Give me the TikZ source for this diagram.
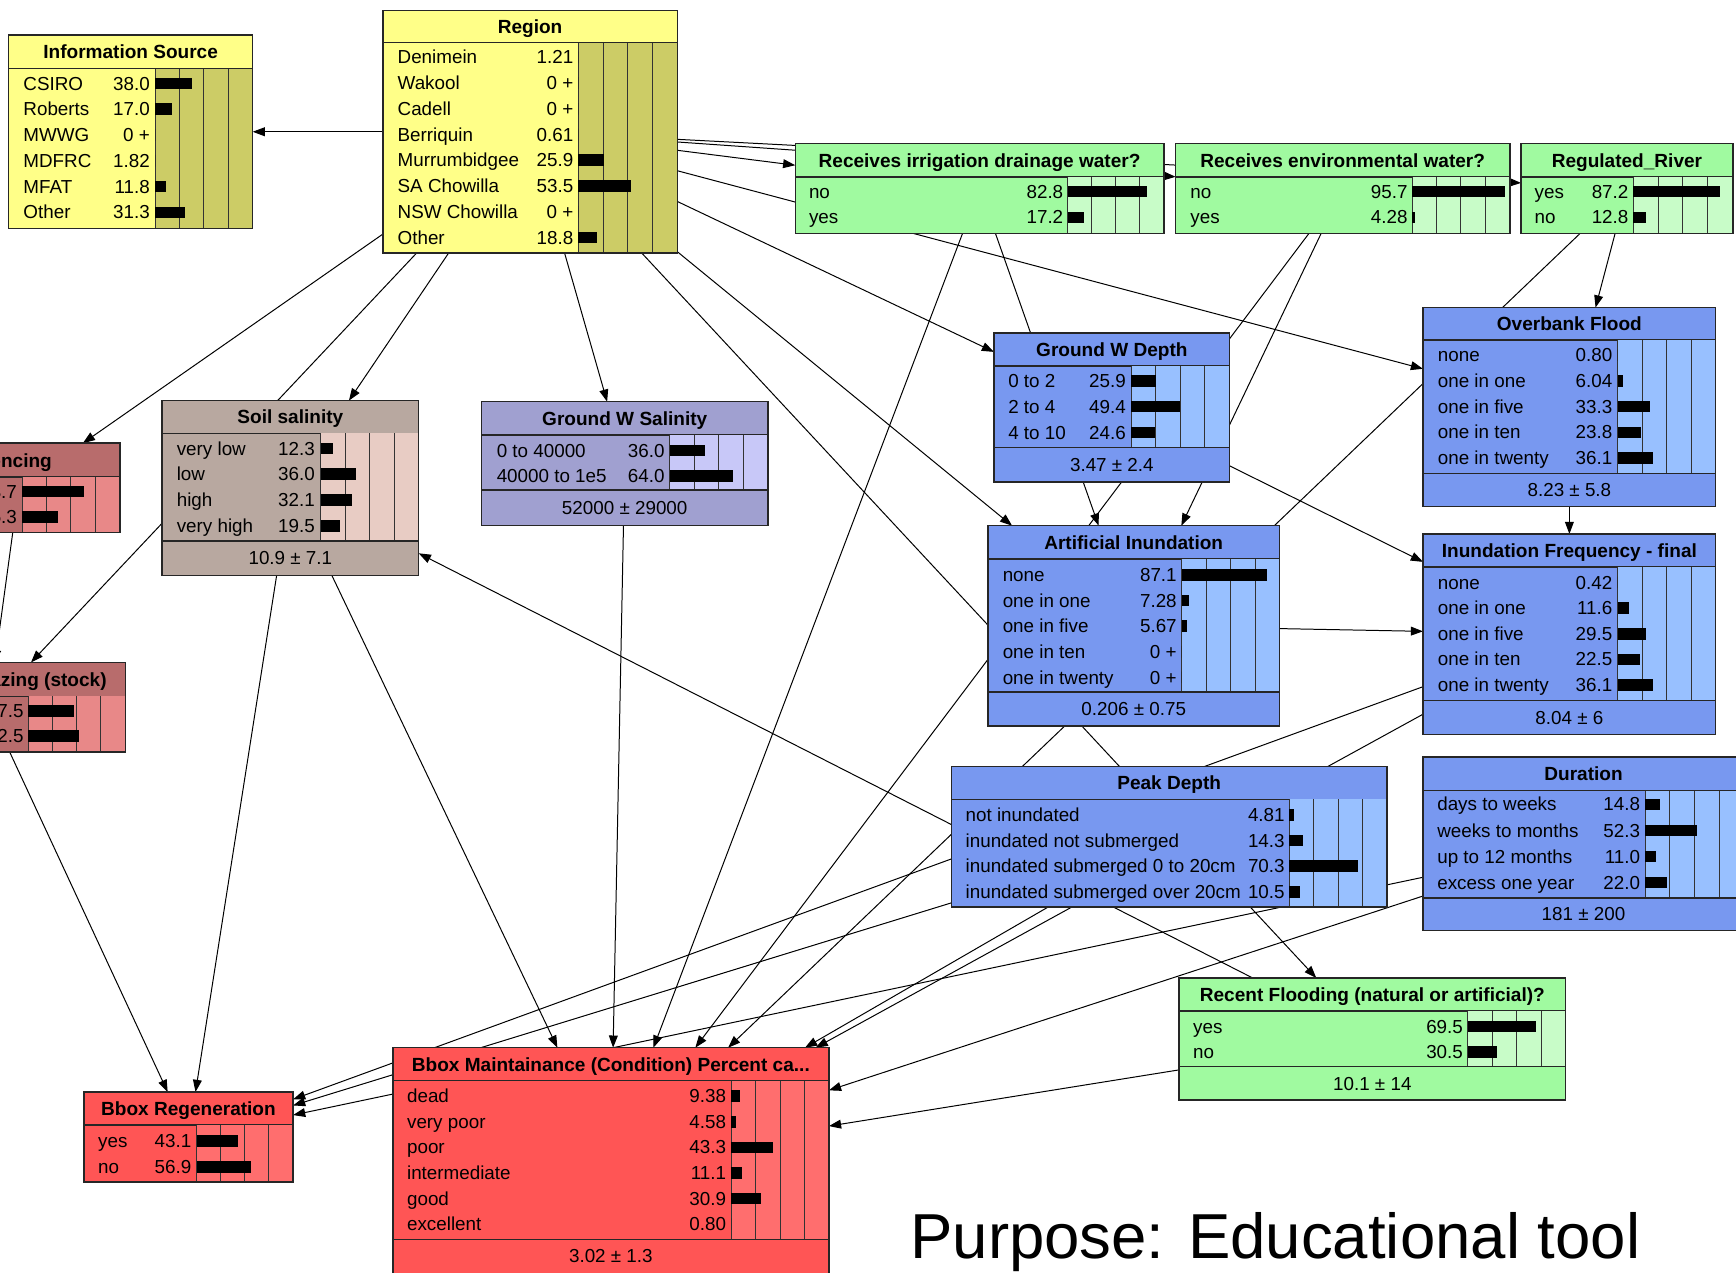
\documentclass[tikz,border=0pt]{standalone}
\usepackage{fontspec}
\setmainfont{Liberation Sans}
\usetikzlibrary{arrows.meta,fit}

\definecolor{ylw}{HTML}{FFFF88}
\definecolor{ylwbar}{HTML}{CCCC66}
\definecolor{grn}{HTML}{A0FAA0}
\definecolor{grnbar}{HTML}{C8FCC8}
\definecolor{blu}{HTML}{7898F0}
\definecolor{blubar}{HTML}{98C0FF}
\definecolor{soilc}{HTML}{B8A8A0}
\definecolor{soilbar}{HTML}{E8CCC4}
\definecolor{gwsc}{HTML}{A0A0D0}
\definecolor{gwsbar}{HTML}{C8C8F8}
\definecolor{rose}{HTML}{B86C6C}
\definecolor{rosebar}{HTML}{E88888}
\definecolor{redc}{HTML}{FF5555}
\definecolor{redbar}{HTML}{FF6E6E}

\pgfdeclarelayer{links}
\pgfsetlayers{links,main}

% probability panel with four columns
\newcommand\panel[5]{%
  \fill[#5] (#1,#2) rectangle (#3,#4);
  \foreach \k in {1,2,3}{\draw[gridln] ({#1+\k*(#3-#1)/4},#2) -- ({#1+\k*(#3-#1)/4},#4);}
  \draw[gridln] (#1,#2) -- (#1,#4);}
% column positions: label x, value right x, bar left x, bar full width
\newcommand\setcols[4]{\def\colL{#1}\def\colV{#2}\def\colB{#3}\def\colW{#4}}
% state row: y, label, value text, bar percent (0 for no visible bar)
\newcommand\prow[4]{%
  \node[lbl, anchor=base west] at (\colL,#1+6) {#2};
  \node[lbl, anchor=base east] at (\colV,#1+6) {#3};
  \fill (\colB,#1-5.25) rectangle ({\colB+\colW*#4/100},#1+5.25);}
% state row whose label lies outside the page
\newcommand\vrow[3]{%
  \node[lbl, anchor=base east] at (\colV,#1+6) {#2};
  \fill (\colB,#1-5.25) rectangle ({\colB+\colW*#3/100},#1+5.25);}
\newcommand\hsep[3]{\draw[sep] (#1,#3) -- (#2,#3);}
\newcommand\ttlat[3]{\node[ttl] at (#1,#2+6) {#3};}
\newcommand\foot[3]{\node[lbl, anchor=base] at (#1,#2+6) {#3};}
\newcommand\reframe[1]{\draw[sep] (#1.north west) rectangle (#1.south east);}

\begin{document}
\begin{tikzpicture}[x=1pt,y=-1pt,
  netbox/.style={rectangle, inner sep=0pt, draw=none},
  sep/.style={line width=1.3pt, draw=black!85},
  gridln/.style={line width=0.8pt, draw=black!80},
  ttl/.style={font=\bfseries\fontsize{17.2}{20}\selectfont, inner sep=0pt, anchor=base},
  lbl/.style={font=\fontsize{17}{20}\selectfont, inner sep=0pt},
  link/.style={line width=0.9pt, -{Triangle[length=11pt,width=8pt]}}]
\useasboundingbox (0,0) rectangle (1568,1149);

\begin{scope}
\clip (0,0) rectangle (1568,1149);

% ---------- Information Source
\node[netbox, fill=ylw, fit={(8,32) (228,206)}] (infosrc) {};
\hsep{8}{228}{62}
\ttlat{118}{47}{Information Source}
\panel{140}{62}{228}{206}{ylwbar}
\setcols{21}{135.5}{140}{88}
\prow{75.3}{CSIRO}{38.0}{38.0}
\prow{98.6}{Roberts}{17.0}{17.0}
\prow{121.9}{MWWG}{0 +}{0}
\prow{145.2}{MDFRC}{1.82}{0}
\prow{168.5}{MFAT}{11.8}{11.8}
\prow{191.8}{Other}{31.3}{31.3}
\reframe{infosrc}

% ---------- Region
\node[netbox, fill=ylw, fit={(346,9.5) (611.5,228.5)}] (region) {};
\hsep{346}{611.5}{38.5}
\ttlat{478.75}{24}{Region}
\panel{522.5}{38.5}{611.5}{228.5}{ylwbar}
\setcols{359}{518}{522.5}{89}
\prow{51.8}{Denimein}{1.21}{0}
\prow{75.0}{Wakool}{0 +}{0}
\prow{98.3}{Cadell}{0 +}{0}
\prow{121.5}{Berriquin}{0.61}{0}
\prow{144.7}{Murrumbidgee}{25.9}{25.9}
\prow{168.0}{SA Chowilla}{53.5}{53.5}
\prow{191.2}{NSW Chowilla}{0 +}{0}
\prow{214.4}{Other}{18.8}{18.8}
\reframe{region}

% ---------- Receives irrigation drainage water?
\node[netbox, fill=grn, fit={(718.5,129.8) (1051,210.5)}] (irrig) {};
\hsep{718.5}{1051}{159.8}
\ttlat{884.75}{145}{Receives irrigation drainage water?}
\panel{964.5}{159.8}{1051}{210.5}{grnbar}
\setcols{730.5}{960.5}{964.5}{86.5}
\prow{173.1}{no}{82.8}{82.8}
\prow{196.3}{yes}{17.2}{17.2}
\reframe{irrig}

% ---------- Receives environmental water?
\node[netbox, fill=grn, fit={(1062,129.8) (1363.5,210.5)}] (envw) {};
\hsep{1062}{1363.5}{159.8}
\ttlat{1212.75}{145}{Receives environmental water?}
\panel{1275.5}{159.8}{1363.5}{210.5}{grnbar}
\setcols{1075}{1271.5}{1275.5}{88}
\prow{173.1}{no}{95.7}{95.7}
\prow{196.3}{yes}{4.28}{3}
\reframe{envw}

% ---------- Regulated_River
\node[netbox, fill=grn, fit={(1374,129.8) (1565,210.5)}] (regriver) {};
\hsep{1374}{1565}{159.8}
\ttlat{1469.5}{145}{Regulated\_River}
\panel{1475}{159.8}{1565}{210.5}{grnbar}
\setcols{1386}{1471}{1475}{90}
\prow{173.1}{yes}{87.2}{87.2}
\prow{196.3}{no}{12.8}{12.8}
\reframe{regriver}

% ---------- Overbank Flood
\node[netbox, fill=blu, fit={(1285.5,278) (1549.5,457.5)}] (overbank) {};
\hsep{1285.5}{1549.5}{307}
\ttlat{1417.5}{292.5}{Overbank Flood}
\panel{1461}{307}{1549.5}{427.5}{blubar}
\hsep{1285.5}{1549.5}{427.5}
\foot{1417.5}{442.5}{8.23 ± 5.8}
\setcols{1298.5}{1456.5}{1461}{88.5}
\prow{320.7}{none}{0.80}{0}
\prow{344.0}{one in one}{6.04}{6.04}
\prow{367.2}{one in five}{33.3}{33.3}
\prow{390.5}{one in ten}{23.8}{23.8}
\prow{413.7}{one in twenty}{36.1}{36.1}
\reframe{overbank}

% ---------- Ground W Depth
\node[netbox, fill=blu, fit={(898,301) (1110.5,435)}] (gwdepth) {};
\hsep{898}{1110.5}{330.5}
\ttlat{1004.25}{316}{Ground W Depth}
\panel{1021.5}{330.5}{1110.5}{404}{blubar}
\hsep{898}{1110.5}{404}
\foot{1004.25}{419.5}{3.47 ± 2.4}
\setcols{910.5}{1017}{1021.5}{89}
\prow{344.0}{0 to 2}{25.9}{25.9}
\prow{367.3}{2 to 4}{49.4}{49.4}
\prow{390.6}{4 to 10}{24.6}{24.6}
\reframe{gwdepth}

% ---------- Artificial Inundation
\node[netbox, fill=blu, fit={(892.5,475) (1155.5,655.5)}] (artinund) {};
\hsep{892.5}{1155.5}{505}
\ttlat{1024}{490}{Artificial Inundation}
\panel{1067.5}{505}{1155.5}{625}{blubar}
\hsep{892.5}{1155.5}{625}
\foot{1024}{640}{0.206 ± 0.75}
\setcols{905.5}{1063}{1067.5}{88}
\prow{519.4}{none}{87.1}{87.1}
\prow{542.5}{one in one}{7.28}{7.28}
\prow{565.6}{one in five}{5.67}{5.67}
\prow{588.7}{one in ten}{0 +}{0}
\prow{611.8}{one in twenty}{0 +}{0}
\reframe{artinund}

% ---------- Inundation Frequency - final
\node[netbox, fill=blu, fit={(1285.5,482.5) (1549.5,663)}] (infreq) {};
\hsep{1285.5}{1549.5}{512}
\ttlat{1417.5}{497.5}{Inundation Frequency - final}
\panel{1461}{512}{1549.5}{632.5}{blubar}
\hsep{1285.5}{1549.5}{632.5}
\foot{1417.5}{648}{8.04 ± 6}
\setcols{1298.5}{1456.5}{1461}{88.5}
\prow{526.0}{none}{0.42}{0}
\prow{549.2}{one in one}{11.6}{11.6}
\prow{572.4}{one in five}{29.5}{29.5}
\prow{595.5}{one in ten}{22.5}{22.5}
\prow{618.6}{one in twenty}{36.1}{36.1}
\reframe{infreq}

% ---------- Peak Depth
\node[netbox, fill=blu, fit={(859.5,692.5) (1252.5,819)}] (peak) {};
\hsep{859.5}{1252.5}{722}
\ttlat{1056}{707.5}{Peak Depth}
\panel{1164.5}{722}{1252.5}{819}{blubar}
\setcols{872}{1160.5}{1164.5}{88}
\prow{736.0}{not inundated}{4.81}{4.81}
\prow{759.2}{inundated not submerged}{14.3}{14.3}
\prow{782.4}{inundated submerged 0 to 20cm}{70.3}{70.3}
\prow{805.6}{inundated submerged over 20cm}{10.5}{10.5}
\reframe{peak}

% ---------- Duration
\node[netbox, fill=blu, fit={(1285.5,684) (1575,840)}] (duration) {};
\hsep{1285.5}{1575}{714}
\ttlat{1430.25}{699}{Duration}
\panel{1486}{714}{1575}{811}{blubar}
\hsep{1285.5}{1575}{811}
\foot{1430.25}{825.5}{181 ± 200}
\setcols{1298}{1481.5}{1486}{89}
\prow{726.5}{days to weeks}{14.8}{14.8}
\prow{750.0}{weeks to months}{52.3}{52.3}
\prow{773.5}{up to 12 months}{11.0}{11.0}
\prow{797.0}{excess one year}{22.0}{22.0}
\reframe{duration}

% ---------- Recent Flooding
\node[netbox, fill=grn, fit={(1065,883.5) (1414,993.5)}] (rf) {};
\hsep{1065}{1414}{913}
\ttlat{1239.5}{898.5}{Recent Flooding (natural or artificial)?}
\panel{1325.5}{913}{1414}{963.5}{grnbar}
\hsep{1065}{1414}{963.5}
\foot{1239.5}{978.5}{10.1 ± 14}
\setcols{1077.5}{1321.5}{1325.5}{88.5}
\prow{927.3}{yes}{69.5}{69.5}
\prow{950.3}{no}{30.5}{30.5}
\reframe{rf}

% ---------- Bbox Regeneration
\node[netbox, fill=redc, fit={(76,986.5) (264.5,1067.5)}] (bbr) {};
\hsep{76}{264.5}{1016}
\ttlat{170.25}{1001.5}{Bbox Regeneration}
\panel{177.5}{1016}{264.5}{1067.5}{redbar}
\setcols{88.5}{173}{177.5}{87}
\prow{1030.5}{yes}{43.1}{43.1}
\prow{1053.8}{no}{56.9}{56.9}
\reframe{bbr}

% ---------- Bbox Maintainance
\node[netbox, fill=redc, fit={(355,946.5) (748.5,1150.5)}] (bbm) {};
\hsep{355}{748.5}{976}
\ttlat{551.75}{961.5}{Bbox Maintainance (Condition) Percent ca...}
\panel{660.5}{976}{748.5}{1119.5}{redbar}
\hsep{355}{748.5}{1119.5}
\foot{551.75}{1134}{3.02 ± 1.3}
\setcols{367.5}{656}{660.5}{88}
\prow{990.0}{dead}{9.38}{9.38}
\prow{1013.2}{very poor}{4.58}{4.58}
\prow{1036.3}{poor}{43.3}{43.3}
\prow{1059.4}{intermediate}{11.1}{11.1}
\prow{1082.5}{good}{30.9}{30.9}
\prow{1105.6}{excellent}{0.80}{0}
\reframe{bbm}

% ---------- Soil salinity
\node[netbox, fill=soilc, fit={(146.5,362) (378,519.5)}] (soil) {};
\hsep{146.5}{378}{391.5}
\ttlat{262.25}{376.7}{Soil salinity}
\panel{289.5}{391.5}{378}{488.5}{soilbar}
\hsep{146.5}{378}{488.5}
\foot{262.25}{503.5}{10.9 ± 7.1}
\setcols{159.5}{284.5}{289.5}{88.5}
\prow{405.0}{very low}{12.3}{12.3}
\prow{428.3}{low}{36.0}{36.0}
\prow{451.6}{high}{32.1}{32.1}
\prow{475.0}{very high}{19.5}{19.5}
\reframe{soil}

% ---------- Ground W Salinity
\node[netbox, fill=gwsc, fit={(435,363) (693.5,474.2)}] (gws) {};
\hsep{435}{693.5}{393}
\ttlat{564.25}{378}{Ground W Salinity}
\panel{605}{393}{693.5}{442.6}{gwsbar}
\hsep{435}{693.5}{442.6}
\foot{564.25}{458.5}{52000 ± 29000}
\setcols{448.5}{600.5}{605}{88.5}
\prow{407.0}{0 to 40000}{36.0}{36.0}
\prow{430.0}{40000 to 1e5}{64.0}{64.0}
\reframe{gws}

% ---------- Fencing (runs off the left edge)
\node[netbox, fill=rose, fit={(-74,400.5) (108,481)}] (fencing) {};
\hsep{-74}{108}{431}
\node[ttl, anchor=base east] at (47,421.8) {Fencing};
\panel{20}{431}{108}{481}{rosebar}
\setcols{0}{15.5}{20}{88}
\vrow{444.0}{63.7}{63.7}
\vrow{466.7}{36.3}{36.3}
\reframe{fencing}

% ---------- Grazing (stock) (runs off the left edge)
\node[netbox, fill=rose, fit={(-133,598.5) (113,679)}] (grazing) {};
\hsep{-133}{113}{629}
\node[ttl, anchor=base east] at (96.5,620) {Grazing (stock)};
\panel{25.5}{629}{113}{679}{rosebar}
\setcols{0}{21.5}{25.5}{87.5}
\vrow{642.2}{47.5}{47.5}
\vrow{664.8}{52.5}{52.5}
\reframe{grazing}

% ---------- caption
\node[anchor=base west, inner sep=0pt, font=\fontsize{57.4}{62}\selectfont] (purpose) at (822,1137) {Purpose: Educational tool};
\end{scope}

% ---------- links, drawn beneath the nodes
\begin{pgfonlayer}{links}
\fill[white] (0,0) rectangle (1568,1149);
\clip (0,0) rectangle (1568,1149);
\draw[link] (region) -- (infosrc);
\draw[link] (region) -- (irrig);
\draw[link] (region) -- (envw);
\draw[link] (region) -- (regriver);
\draw[link] (region) -- (overbank);
\draw[link] (region) -- (gwdepth);
\draw[link] (region) -- (artinund);
\draw[link] (region) -- (rf);
\draw[link] (region) -- (fencing);
\draw[link] (region) -- (grazing);
\draw[link] (region) -- (soil);
\draw[link] (region) -- (gws);
\draw[link] (irrig) -- (artinund);
\draw[link] (irrig) -- (bbm);
\draw[link] (envw) -- (artinund);
\draw[link] (envw) -- (bbm);
\draw[link] (regriver) -- (overbank);
\draw[link] (regriver) -- (bbm);
\draw[link] (overbank) -- (infreq);
\draw[link] (gwdepth) -- (infreq);
\draw[link] (artinund) -- (infreq);
\draw[link] (infreq) -- (bbr);
\draw[link] (infreq) -- (bbm);
\draw[link] (peak) -- (bbr);
\draw[link] (peak) -- (bbm);
\draw[link] (duration) -- (bbr);
\draw[link] (duration) -- (bbm);
\draw[link] (rf) -- (bbm);
\draw[link] (rf) -- (soil);
\draw[link] (soil) -- (bbr);
\draw[link] (soil) -- (bbm);
\draw[link] (gws) -- (bbm);
\draw[link] (grazing) -- (bbr);
\draw[link] (fencing) -- (grazing);
\end{pgfonlayer}
\end{tikzpicture}
\end{document}
